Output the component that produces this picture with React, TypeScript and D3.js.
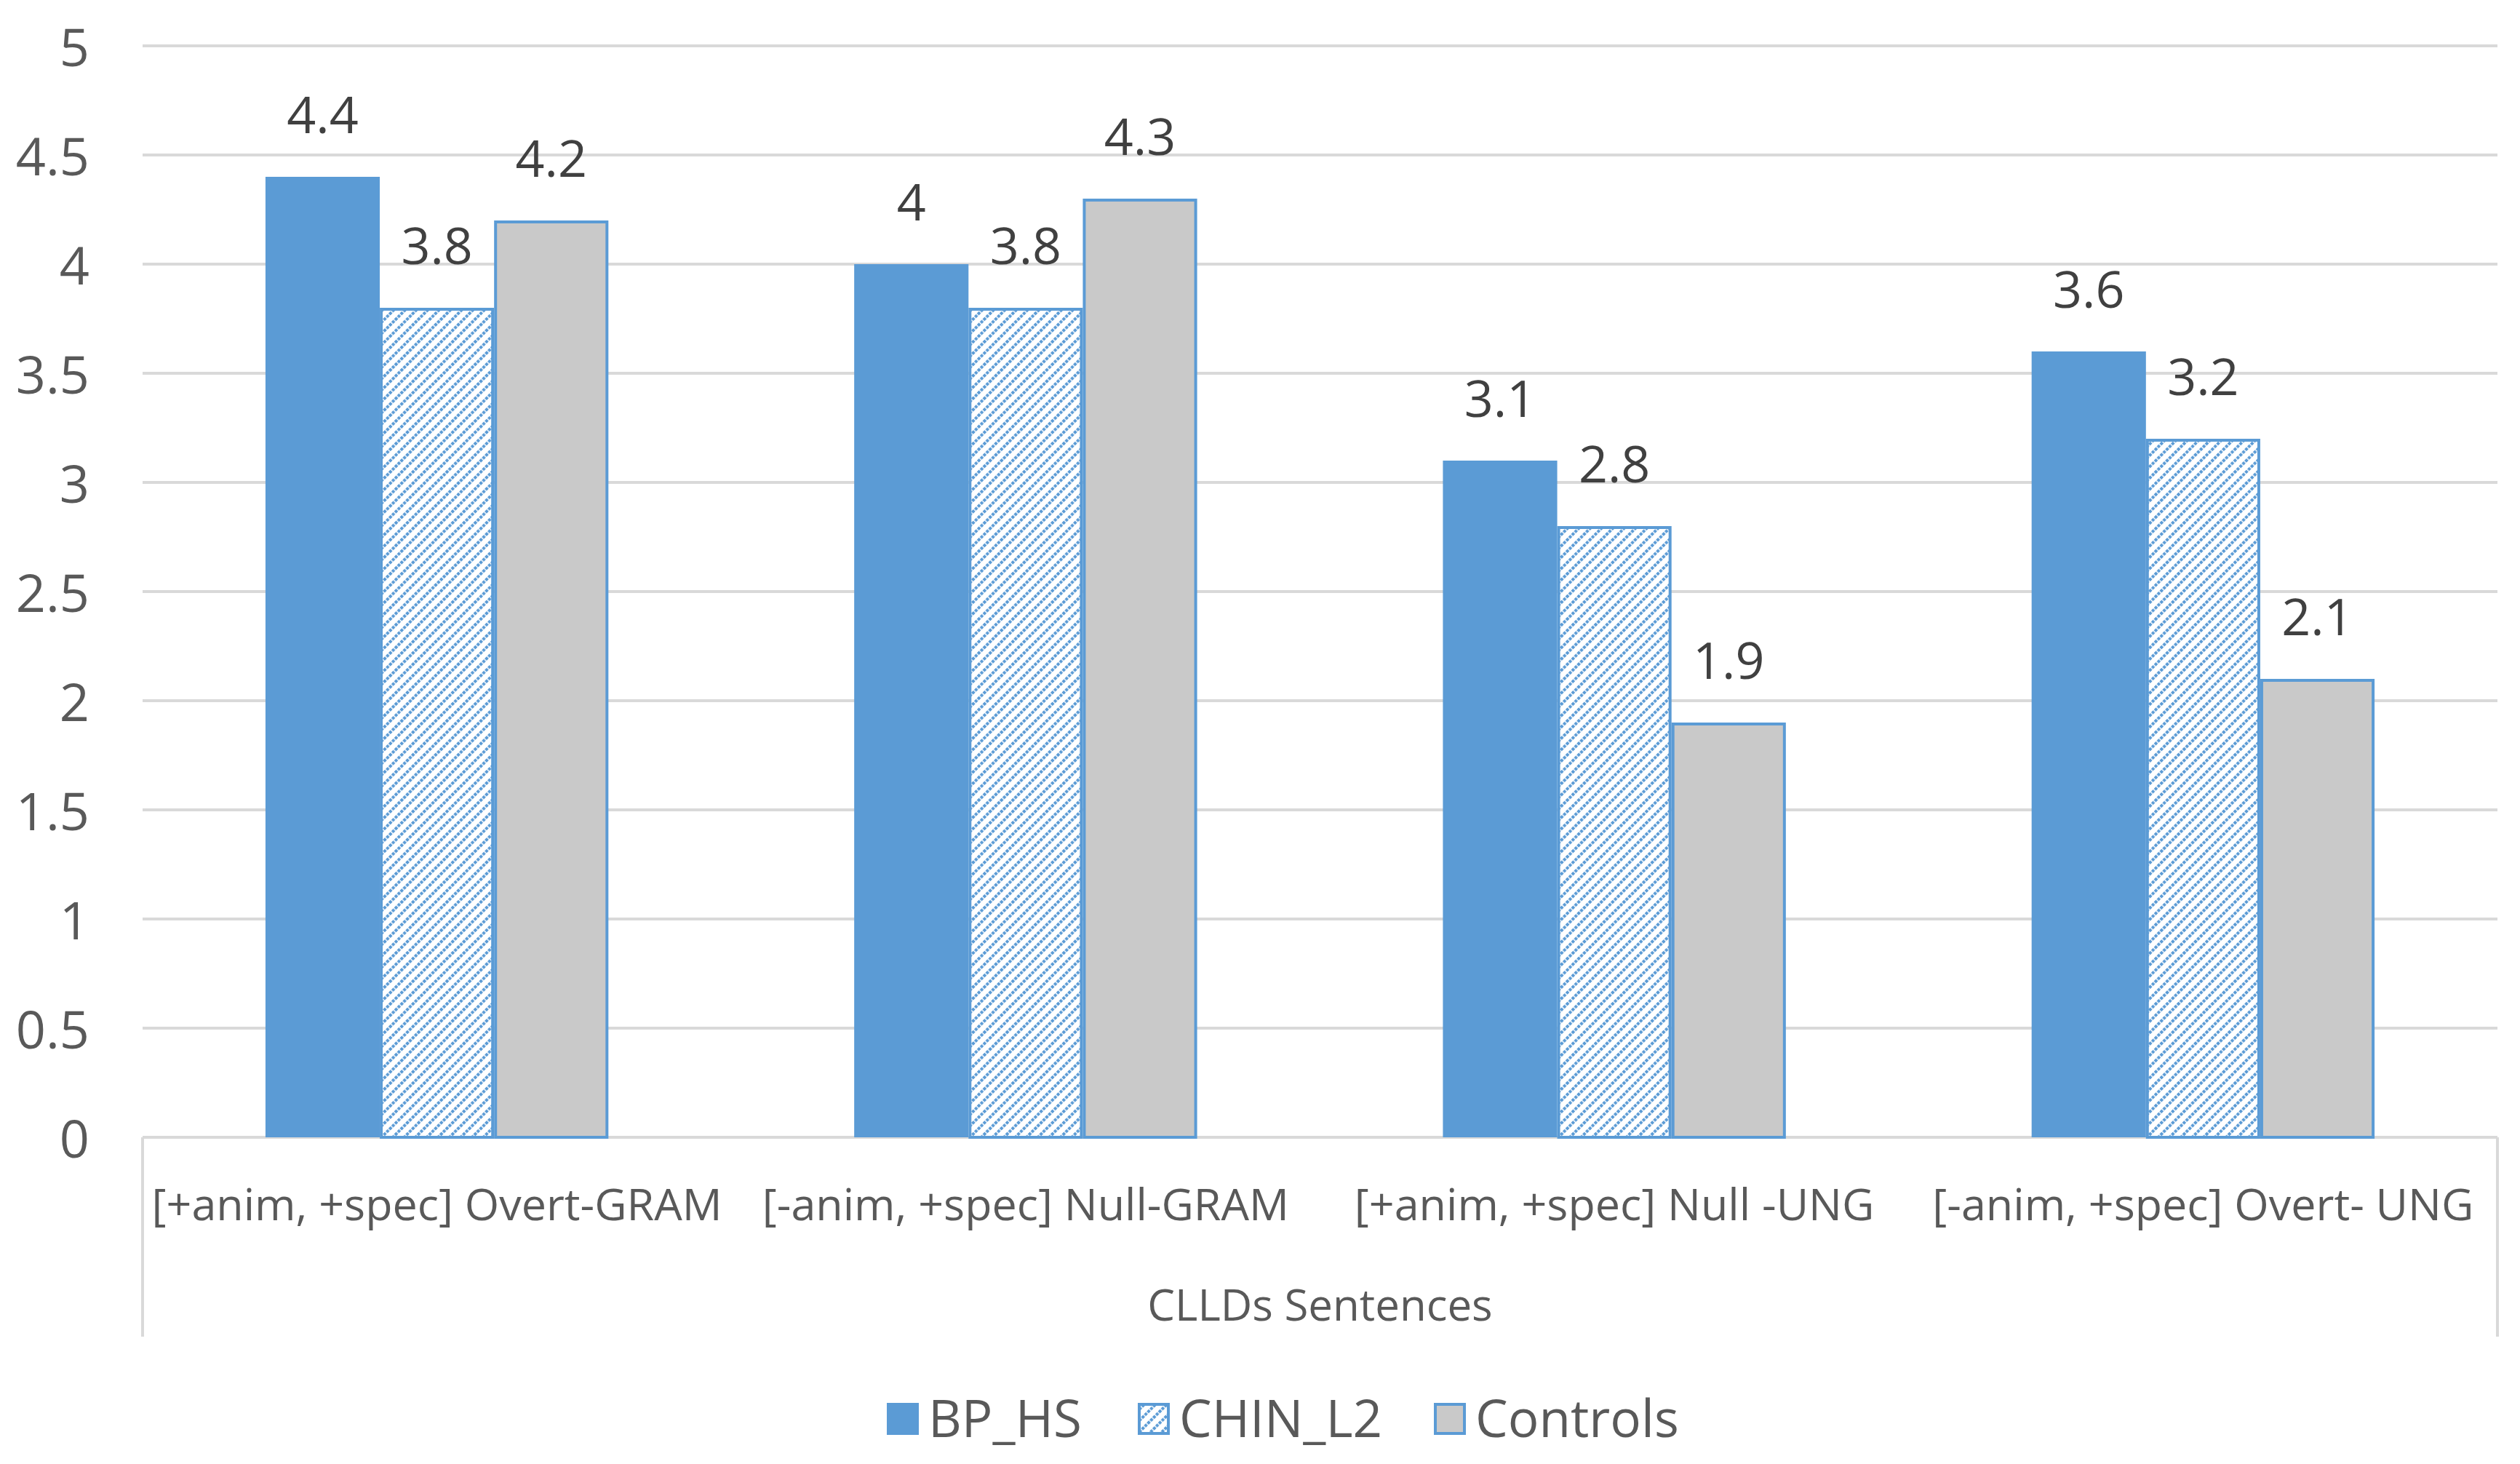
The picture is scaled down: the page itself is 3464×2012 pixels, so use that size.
import React from "react";
import * as d3 from "d3";

const categories = [
  "[+anim, +spec] Overt-GRAM",
  "[-anim, +spec] Null-GRAM",
  "[+anim, +spec] Null -UNG",
  "[-anim, +spec] Overt- UNG",
];
const seriesNames = ["BP_HS", "CHIN_L2", "Controls"];
const bpHs = [4.4, 4, 3.1, 3.6];
const chinL2 = [3.8, 3.8, 2.8, 3.2];
const controls = [4.2, 4.3, 1.9, 2.1];
const yTicks = [0, 0.5, 1, 1.5, 2, 2.5, 3, 3.5, 4, 4.5, 5];
const axisTitle = "CLLDs Sentences";

const width = 3464;
const height = 2012;
const margin = { top: 63, right: 31, bottom: 449, left: 196 };
const font = "'Open Sans', sans-serif";

const blue = "#5B9BD5";
const gray = "#C9C9C9";
const grid = "#D9D9D9";
const textGray = "#595959";

const App: React.FC = () => {
  const values = [bpHs, chinL2, controls];
  const plotBottom = height - margin.bottom;
  const plotRight = width - margin.right;

  const x0 = d3.scaleBand<string>().domain(categories).range([margin.left, plotRight]);
  const gapRatio = 2.15;
  const barW = x0.bandwidth() / (3 + gapRatio);
  const x1 = d3
    .scaleBand<string>()
    .domain(seriesNames)
    .range([0, barW * 3]);
  const y = d3.scaleLinear().domain([0, 5]).range([plotBottom, margin.top]);

  const fills = [blue, "url(#hatch)", gray];

  // legend layout (text widths)
  const legendWidths = [208, 270, 270];
  const box = 44;
  const legendGap = 80;
  let legendX = 1219;

  return (
    <div style={{ position: "absolute", left: 0, top: 0 }}>
      <svg width={width} height={height} style={{ display: "block" }}>
        <defs>
          <pattern
            id="hatch"
            patternUnits="userSpaceOnUse"
            width={11}
            height={11}
            patternTransform="rotate(45)"
          >
            <rect width={11} height={11} fill="#fff" />
            <line x1={2} y1={0} x2={2} y2={11} stroke={blue} strokeWidth={4} strokeDasharray="4 1.5" />
          </pattern>
        </defs>
        <rect width={width} height={height} fill="#fff" />

        {/* gridlines */}
        {yTicks.map((t) => (
          <line
            key={t}
            x1={margin.left}
            x2={plotRight}
            y1={y(t)}
            y2={y(t)}
            stroke={grid}
            strokeWidth={4}
          />
        ))}

        {/* y labels */}
        {yTicks.map((t) => (
          <text
            key={t}
            x={123}
            y={y(t)}
            textAnchor="end"
            dominantBaseline="central"
            fontFamily={font}
            fontSize={72}
            fill={textGray}
          >
            {String(t)}
          </text>
        ))}

        {/* category axis frame */}
        <line x1={margin.left} x2={margin.left} y1={plotBottom} y2={1837} stroke={grid} strokeWidth={4} />
        <line x1={plotRight} x2={plotRight} y1={plotBottom} y2={1837} stroke={grid} strokeWidth={4} />

        {/* bars */}
        {categories.map((c, ci) => {
          const gx = (x0(c) || 0) + (x0.bandwidth() - barW * 3) / 2;
          return (
            <g key={c}>
              {seriesNames.map((s, si) => {
                const v = values[si][ci];
                const bx = gx + (x1(s) || 0);
                const outlined = si > 0;
                return (
                  <g key={s}>
                    <rect
                      x={outlined ? bx + 2 : bx}
                      y={outlined ? y(v) + 2 : y(v)}
                      width={outlined ? barW - 4 : barW}
                      height={outlined ? y(0) - y(v) - 2 : y(0) - y(v)}
                      fill={fills[si]}
                      stroke={outlined ? blue : "none"}
                      strokeWidth={4}
                    />
                    <text
                      x={bx + barW / 2}
                      y={y(v) - 60}
                      textAnchor="middle"
                      fontFamily={font}
                      fontSize={70}
                      fill="#404040"
                    >
                      {String(v)}
                    </text>
                  </g>
                );
              })}
              <text
                x={(x0(c) || 0) + x0.bandwidth() / 2}
                y={1677}
                textAnchor="middle"
                fontFamily={font}
                fontSize={61}
                fill={textGray}
              >
                {c}
              </text>
            </g>
          );
        })}

        <text
          x={(margin.left + plotRight) / 2}
          y={1815}
          textAnchor="middle"
          fontFamily={font}
          fontSize={60}
          fill={textGray}
        >
          {axisTitle}
        </text>

        {/* legend */}
        {seriesNames.map((s, i) => {
          const lx = legendX;
          legendX += box + 13 + legendWidths[i] + legendGap;
          return (
            <g key={s}>
              <rect
                x={i > 0 ? lx + 2 : lx}
                y={i > 0 ? 1930 : 1928}
                width={i > 0 ? box - 4 : box}
                height={i > 0 ? box - 4 : box}
                fill={fills[i]}
                stroke={i > 0 ? blue : "none"}
                strokeWidth={4}
              />
              <text
                x={lx + box + 13}
                y={1975}
                fontFamily={font}
                fontSize={71}
                fill={textGray}
              >
                {s}
              </text>
            </g>
          );
        })}
      </svg>
    </div>
  );
};

export default App;
